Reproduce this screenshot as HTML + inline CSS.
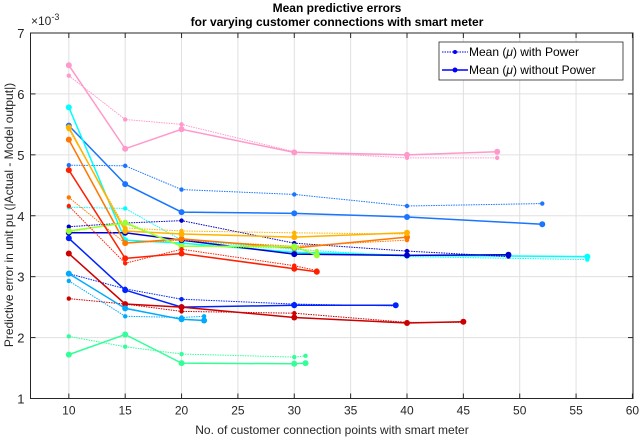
<!DOCTYPE html>
<html><head><meta charset="utf-8"><style>
body{margin:0;background:#fff;}
svg{font-family:"Liberation Sans",sans-serif;}
</style></head><body>
<svg id="c" width="640" height="440" xmlns="http://www.w3.org/2000/svg">
<rect width="640" height="440" fill="#fff"/>
<g id="grid"></g><g id="series"></g><g id="axes"></g>
<text x="337" y="12" text-anchor="middle" font-size="12" font-weight="bold">Mean predictive errors</text>
<text x="337" y="26" text-anchor="middle" font-size="12" font-weight="bold">for varying customer connections with smart meter</text>
<text x="31" y="25" font-size="12" fill="#262626">×10<tspan dy="-5" font-size="9">-3</tspan></text>
<text transform="translate(13,215) rotate(-90)" text-anchor="middle" font-size="12" fill="#262626">Predictive error in unit pu (|Actual - Model output|)</text>
<text x="332" y="434" text-anchor="middle" font-size="12" fill="#262626">No. of customer connection points with smart meter</text>
<g>
<rect x="439" y="42" width="184" height="38" fill="#fff" stroke="#262626" stroke-width="0.8"/>
<line x1="442" y1="52" x2="468" y2="52" stroke="#0000ff" stroke-dasharray="1.5,1"/>
<circle cx="455" cy="52" r="2" fill="#0000ff"/>
<text x="469" y="56" font-size="12">Mean (<tspan font-style="italic">μ</tspan>) with Power</text>
<line x1="442" y1="70" x2="468" y2="70" stroke="#0000ff" stroke-width="1.5"/>
<circle cx="455" cy="70" r="2.5" fill="#0000ff"/>
<text x="469" y="74" font-size="12">Mean (<tspan font-style="italic">μ</tspan>) without Power</text>
</g>
</svg>
<script>
const xTicks=[10,15,20,25,30,35,40,45,50,55,60];
const yTicks=[1,2,3,4,5,6,7];
const colors=['#ff99cc','#1a75ff','#00ffff','#0000cc','#ff7700','#ffb300','#99ff33','#ff2000','#0022ff','#cc0000','#00aaff','#33ff99'];
const xs=[[10,15,20,30,40,48],[10,15,20,30,40,52],[10,15,20,30,40,56],[10,15,20,30,40,49],[10,15,20,30,40],[10,15,20,30,40],[10,15,20,30,32],[10,15,20,30,32],[10,15,20,30,39],[10,15,20,30,40,45],[10,15,20,22],[10,15,20,30,31]];
const withPower=[[6.3,5.58,5.5,5.05,4.95,4.95],[4.83,4.82,4.43,4.35,4.16,4.2],[4.14,4.12,3.6,3.45,3.33,3.28],[3.82,3.88,3.92,3.55,3.42,3.33],[4.3,3.55,3.6,3.5,3.6],[5.42,3.8,3.75,3.72,3.7],[3.73,3.9,3.5,3.47,3.42],[4.16,3.22,3.45,3.18,3.1],[3.05,2.8,2.63,2.55,2.52],[2.64,2.55,2.43,2.4,2.25,2.25],[2.93,2.35,2.33,2.35],[2.02,1.85,1.73,1.68,1.7]];
const withoutPower=[[6.47,5.1,5.42,5.04,5.0,5.05],[5.48,4.52,4.06,4.04,3.98,3.86],[5.78,3.6,3.55,3.4,3.35,3.33],[3.72,3.72,3.6,3.37,3.35,3.36],[5.25,3.55,3.62,3.47,3.65],[5.45,3.75,3.7,3.65,3.72],[3.75,3.88,3.5,3.5,3.35],[4.75,3.3,3.38,3.13,3.08],[3.63,2.78,2.5,2.53,2.53],[3.38,2.55,2.5,2.33,2.24,2.26],[3.05,2.48,2.3,2.28],[1.72,2.05,1.58,1.57,1.58]];
const L=30.5,R=633,T=33,B=398.5,XMIN=6.6,XMAX=60.05,YMIN=1,YMAX=7;
const X=v=>L+(v-XMIN)/(XMAX-XMIN)*(R-L);
const Y=v=>B-(v-YMIN)/(YMAX-YMIN)*(B-T);
const NS='http://www.w3.org/2000/svg';
function mk(t,a,p){const e=document.createElementNS(NS,t);for(const k in a)e.setAttribute(k,a[k]);p.appendChild(e);return e;}
const grid=document.getElementById('grid'),axes=document.getElementById('axes'),ser=document.getElementById('series');
xTicks.forEach(t=>{
 const g=mk('line',{x1:X(t),x2:X(t),y1:T,y2:B,stroke:'#e0e0e0','stroke-width':1},grid);
 
 
 mk('line',{x1:X(t),x2:X(t),y1:B,y2:B-5,stroke:'#262626'},axes);
 mk('line',{x1:X(t),x2:X(t),y1:T,y2:T+5,stroke:'#262626'},axes);
 const tx=mk('text',{x:X(t),y:B+16,'text-anchor':'middle','font-size':12,fill:'#262626'},axes);
 tx.textContent=t;
 
 
});
yTicks.forEach(t=>{
 const g=mk('line',{x1:L,x2:R,y1:Y(t),y2:Y(t),stroke:'#e0e0e0','stroke-width':1},grid);
 
 
 mk('line',{x1:L,x2:L+5,y1:Y(t),y2:Y(t),stroke:'#262626'},axes);
 mk('line',{x1:R,x2:R-5,y1:Y(t),y2:Y(t),stroke:'#262626'},axes);
 const tx=mk('text',{x:L-6,y:Y(t)+5,'text-anchor':'end','font-size':13,fill:'#262626'},axes);
 tx.textContent=t;
 
 
});
mk('rect',{x:L,y:T,width:R-L,height:B-T,fill:'none',stroke:'#262626','stroke-width':1},axes);
function drawSeries(xv,yv,col,dotted,name){
 const pts=xv.map((x,i)=>X(x)+','+Y(yv[i])).join(' ');
 const g=mk('g',{},ser);
 
 
 mk('polyline',{points:pts,fill:'none',stroke:col,'stroke-width':dotted?1:1.5,'stroke-dasharray':dotted?'1.5,1':'none'},g);
 xv.forEach((x,i)=>{mk('circle',{cx:X(x),cy:Y(yv[i]),r:dotted?2.2:3,fill:col},g);});
}
colors.forEach((c,i)=>{
 drawSeries(xs[i],withPower[i],c,true,'series-with-power-'+(i+1));
 drawSeries(xs[i],withoutPower[i],c,false,'series-without-power-'+(i+1));
});
</script>
</body></html>
